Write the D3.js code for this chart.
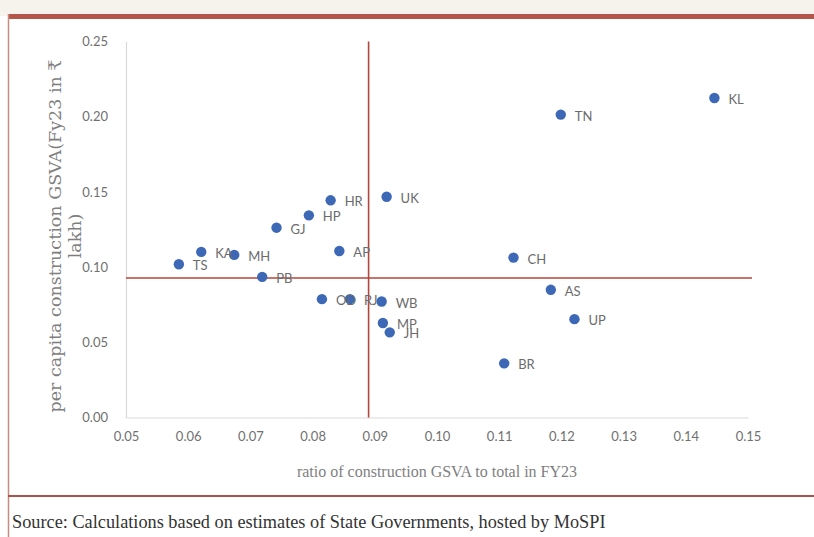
<!DOCTYPE html>
<html><head><meta charset="utf-8">
<script src="https://cdn.jsdelivr.net/npm/d3@7"></script>
<style>body{margin:0;background:#fff;}svg{display:block;}</style>
</head><body>
<svg id="c" width="814" height="537"></svg>
<script>
const states = ["KL","TN","UK","HR","HP","GJ","AP","KA","MH","TS","PB","CH","AS","UP","BR","OD","RJ","WB","MP","JH"];
const ratio  = [0.1446,0.1199,0.0919,0.0829,0.0794,0.0742,0.0843,0.0621,0.0674,0.0585,0.0719,0.1123,0.1183,0.1221,0.1108,0.0815,0.0860,0.0911,0.0913,0.0924];
const perCap = [0.2124,0.2014,0.1468,0.1444,0.1344,0.1262,0.1107,0.1101,0.1081,0.1019,0.0935,0.1063,0.0849,0.0654,0.0360,0.0787,0.0787,0.0771,0.0628,0.0566];
const xTicks = [0.05,0.06,0.07,0.08,0.09,0.10,0.11,0.12,0.13,0.14,0.15];
const yTicks = [0.00,0.05,0.10,0.15,0.20,0.25];
const refX = 0.0890, refY = 0.0928;
const xTitle = "ratio of construction GSVA to total in FY23";
const yTitle = ["per capita construction GSVA(Fy23 in \u20b9", "lakh)"];
const source = "Source: Calculations based on estimates of State Governments, hosted by MoSPI";

const svg = d3.select("#c");
// frame / page decoration
svg.append("rect").attr("x",0).attr("y",0).attr("width",814).attr("height",16).attr("fill","#f6f2ec");
svg.append("rect").attr("x",8).attr("y",16).attr("width",806).attr("height",521).attr("fill","#fff");
svg.append("rect").attr("x",8).attr("y",14).attr("width",806).attr("height",5).attr("fill","#b4564a");
svg.append("line").attr("x1",8.5).attr("x2",8.5).attr("y1",14).attr("y2",537).attr("stroke","#c58a84").attr("stroke-width",1.5);
svg.append("line").attr("x1",8).attr("x2",814).attr("y1",496).attr("y2",496).attr("stroke","#a9554b").attr("stroke-width",2);

const x = d3.scaleLinear().domain([0.05,0.15]).range([126,748]);
const y = d3.scaleLinear().domain([0,0.25]).range([417.5,41.5]);

const g = svg.append("g");
// axes
const xAxis = d3.axisBottom(x).tickValues(xTicks).tickFormat(d3.format(".2f")).tickSize(0).tickPadding(14);
const yAxis = d3.axisLeft(y).tickValues(yTicks).tickFormat(d3.format(".2f")).tickSize(0).tickPadding(18);
const gx = g.append("g").attr("transform",`translate(0,${y(0)})`).call(xAxis);
const gy = g.append("g").attr("transform",`translate(${x(0.05)},0)`).call(yAxis);
[gx,gy].forEach(a=>{
  a.select(".domain").attr("stroke","#d9d9d9").attr("stroke-width",1.2);
  a.selectAll("text").attr("fill","#707070").style("font-family","Lato, 'Open Sans', sans-serif").style("font-size","13px");
});

// reference lines
g.append("line").attr("x1",x(refX)).attr("x2",x(refX)).attr("y1",y(0.25)).attr("y2",y(0))
  .attr("stroke","#b5443a").attr("stroke-width",1.6);
g.append("line").attr("x1",x(0.05)).attr("x2",752).attr("y1",y(refY)).attr("y2",y(refY))
  .attr("stroke","#b5443a").attr("stroke-width",1.6);

// points
const data = states.map((s,i)=>({s, x:ratio[i], y:perCap[i]}));
g.selectAll("circle.pt").data(data).join("circle").attr("class","pt")
  .attr("cx",d=>x(d.x)).attr("cy",d=>y(d.y)).attr("r",5.2).attr("fill","#3d68b5");
g.selectAll("text.lbl").data(data).join("text").attr("class","lbl")
  .attr("x",d=>x(d.x)+14).attr("y",d=>y(d.y)+6)
  .attr("fill","#6b6b6b").style("font-family","Lato, 'Open Sans', sans-serif").style("font-size","13px")
  .text(d=>d.s);

// titles
svg.append("text").attr("x",(x(0.05)+x(0.15))/2).attr("y",477).attr("text-anchor","middle")
  .attr("fill","#7f7f7f").style("font-family","'Liberation Serif', serif").style("font-size","16px").text(xTitle);
const yt = svg.append("text").attr("transform","translate(0,236) rotate(-90)").attr("text-anchor","middle")
  .attr("fill","#7f7f7f").style("font-family","'DejaVu Serif', serif").style("font-size","17.5px");
yt.selectAll("tspan").data(yTitle).join("tspan").attr("x",0).attr("y",(d,i)=>61+i*20).text(d=>d);

svg.append("text").attr("x",12).attr("y",528).attr("fill","#333")
  .style("font-family","'Liberation Serif', serif").style("font-size","18.3px").text(source);
</script>
</body></html>
